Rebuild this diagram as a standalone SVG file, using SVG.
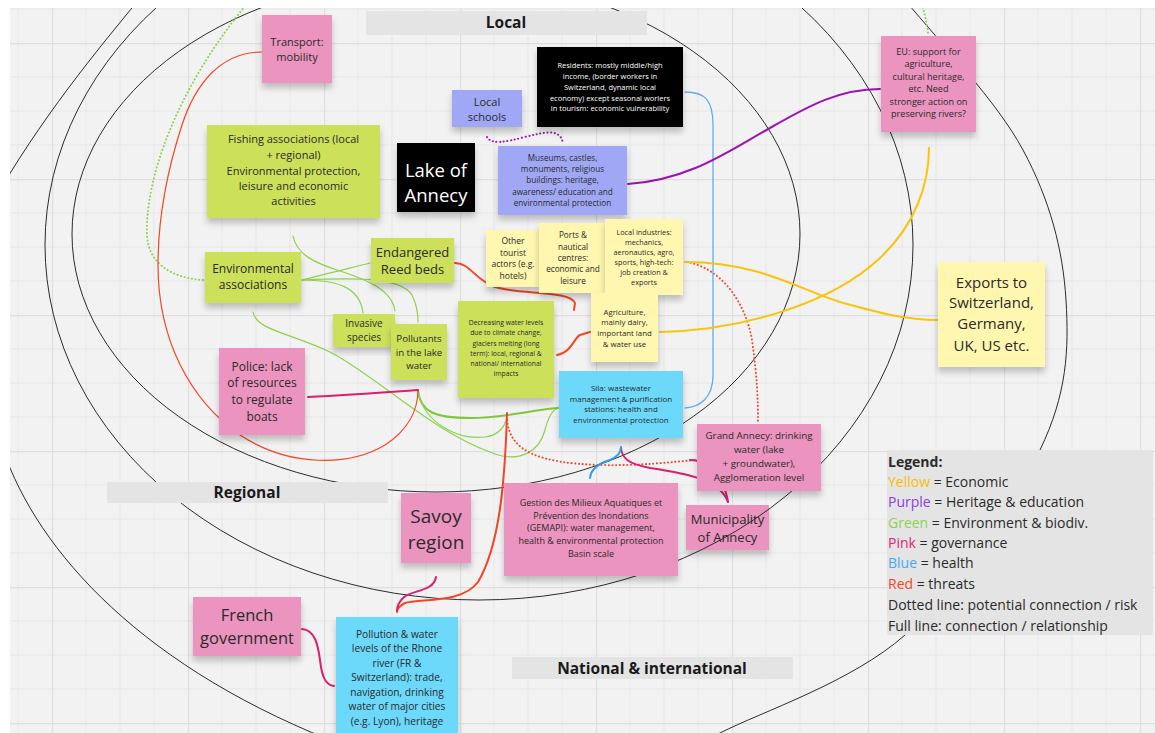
<svg xmlns="http://www.w3.org/2000/svg" width="1155" height="733" viewBox="0 0 1155 733">
<defs>
<style>
text{font-family:"Open Sans","Liberation Sans",sans-serif;fill:#2a2a2a;text-anchor:middle}
.w{fill:#fff}
.lbl{font-weight:bold;font-size:15.5px;fill:#1a1a1a}
.pink{fill:#ea94bf}
.lime{fill:#cde05a}
.yel{fill:#fff6b0}
.peri{fill:#a0a8f5}
.cyan{fill:#6cd8fa}
.blk{fill:#050505}
.bar{fill:#e4e4e4}
.st{filter:url(#sh)}
.ring{fill:none;stroke:#2b2b2b;stroke-width:1}
.c{fill:none;stroke-linecap:round;stroke-linejoin:round}
.g{stroke:#8fd14f;stroke-width:1.2}
.gt{stroke:#7cc83a;stroke-width:2}
.gd{stroke:#8fd14f;stroke-width:2;stroke-dasharray:0.1 3.6}
.r{stroke:#f24726;stroke-width:1.2}
.rt{stroke:#f24726;stroke-width:2}
.rd{stroke:#f24726;stroke-width:2;stroke-dasharray:0.1 3.6}
.p{stroke:#d8206f;stroke-width:2}
.pu{stroke:#9b12b3;stroke-width:2}
.pud{stroke:#9b12b3;stroke-width:2;stroke-dasharray:0.1 3.6}
.y{stroke:#f8c40c;stroke-width:2}
.b{stroke:#5aaef2;stroke-width:1.3}
.bt{stroke:#2d9bf0;stroke-width:2}
.leg{text-anchor:start;font-size:14px;fill:#2a2a2a}
</style>
<filter id="sh" x="-10%" y="-10%" width="120%" height="135%">
<feDropShadow dx="0" dy="5" stdDeviation="3" flood-color="#000" flood-opacity="0.22"/>
</filter>
<pattern id="grid" x="52" y="43" width="136" height="136" patternUnits="userSpaceOnUse">
<path d="M34 0V136M68 0V136M102 0V136M0 34H136M0 68H136M0 102H136" stroke="#e6e6e6" stroke-width="1" fill="none"/>
<path d="M0.5 0V136M0 0.5H136" stroke="#dedede" stroke-width="1.4" fill="none"/>
</pattern>
<clipPath id="cv"><rect x="10" y="8" width="1145" height="725"/></clipPath>
</defs>
<rect width="1155" height="733" fill="#fff"/>
<g clip-path="url(#cv)">
<rect x="10" y="8" width="1145" height="725" fill="#f2f2f2"/>
<rect x="10" y="8" width="1145" height="725" fill="url(#grid)"/>

<g id="node-municipality">
<rect class="pink st" x="686" y="505" width="83" height="45"/>
<text font-size="13"><tspan x="727.5" y="523.5">Municipality</tspan><tspan x="727.5" y="541.5">of Annecy</tspan></text>
</g>

<g id="rings">
<ellipse class="ring" cx="436" cy="234" rx="364" ry="258"/>
<ellipse class="ring" cx="479" cy="245" rx="434" ry="355"/>
<path class="ring" d="M145,-8 C110,35 50,105 0,190"/>
<path class="ring" d="M0,440 C30,540 130,660 330,740"/>
<path class="ring" d="M905,0 C942,45 996,100 1023,150 C1050,200 1063,250 1066,300 C1069,350 1067,394 1040,450 C1013,506 958,588 905,635 C852,682 761,712 720,733 C700,743 680,754 660,760"/>
</g>

<g id="zone-labels">
<rect class="bar" x="366" y="11" width="281" height="24"/>
<text class="lbl" x="506" y="28">Local</text>
<rect class="bar" x="107" y="482" width="281" height="21"/>
<text class="lbl" x="247" y="498">Regional</text>
<rect class="bar" x="512" y="657" width="281" height="22"/>
<text class="lbl" x="652" y="674">National &amp; international</text>
</g>

<g id="connectors">
<path class="c gd" d="M203,280 C170,278 148,262 147,235 C145,180 175,90 250,0"/>
<path class="c gd" d="M921,0 C924,12 927,22 928,33"/>
<path class="c g" d="M293,236 C297,255 315,263 340,271 C368,280 392,290 395,311"/>
<path class="c g" d="M302,280 C325,274 350,268 370,263"/>
<path class="c g" d="M302,280 C335,280 360,286 363,313"/>
<path class="c g" d="M302,280 C350,278 400,276 412,295 C417,305 418,312 418,322"/>
<path class="c g" d="M253,312 C256,330 290,333 330,352 C375,375 430,430 490,452 C520,465 540,450 545,430 C548,418 552,410 558,408"/>
<path class="c gt" d="M418,390 C420,412 435,418 470,418 C505,418 530,410 558,408"/>
<path class="c g" d="M418,392 C425,425 460,440 485,437 C500,435 507,425 507,413"/>
<path class="c r" d="M262,52 C220,52 195,85 182,125 C168,168 158,215 158,265 C158,340 190,400 240,435 C290,468 350,466 385,445 C408,430 418,410 418,390"/>
<path class="c p" d="M308,397 C350,395 390,392 418,390"/>
<path class="c rt" d="M507,413 C505,480 500,545 478,582 C462,604 420,598 405,603 C399,606 397,609 397,612"/>
<path class="c rd" d="M507,420 C510,452 540,463 600,465 C640,466 670,462 697,460"/>
<path class="c rd" d="M687,262 C720,268 745,300 752,340 C757,375 758,400 758,422"/>
<path class="c rt" d="M455,263 C470,263 475,280 495,287 C520,295 570,290 575,303 L574,310"/>
<path class="c rt" d="M557,355 C572,352 574,338 580,335 L590,332"/>
<path class="c p" d="M436,577 C434,592 410,590 403,598 C398,603 397,607 397,611"/>
<path class="c p" d="M302,629 C315,630 318,645 320,660 C322,678 326,685 334,686"/>
<path class="c p" d="M621,448 C622,458 628,464 650,468 C690,474 720,480 728,502"/>
<path class="c p" d="M690,460 C702,460 715,468 720,478 C725,488 727,495 728,502"/>
<path class="c bt" d="M590,478 C591,468 600,463 610,460 C617,457 621,453 621,447"/>
<path class="c b" d="M685,92 C705,92 713,100 713,125 L713,375 C713,398 700,407 685,408"/>
<path class="c y" d="M685,262 C760,262 800,290 840,302 C880,313 905,320 938,320"/>
<path class="c y" d="M660,332 C740,330 830,305 880,258 C915,225 929,185 929,148"/>
<path class="c pu" d="M628,184 C690,180 730,150 770,128 C810,105 840,89 880,89"/>
<path class="c pud" d="M487,137 C492,145 505,142 525,137 C545,132 560,128 563,143"/>
</g>

<g id="node-transport">
<rect class="pink st" x="262" y="15" width="70" height="68"/>
<text font-size="11"><tspan x="297" y="46">Transport:</tspan><tspan x="297" y="61">mobility</tspan></text>
</g>
<g id="node-fishing">
<rect class="lime st" x="207" y="125" width="173" height="93"/>
<text font-size="11"><tspan x="293.5" y="143">Fishing associations (local</tspan><tspan x="293.5" y="159">+ regional)</tspan><tspan x="293.5" y="175">Environmental protection,</tspan><tspan x="293.5" y="190">leisure and economic</tspan><tspan x="293.5" y="205">activities</tspan></text>
</g>
<g id="node-lake">
<rect class="blk st" x="397" y="143" width="78" height="69"/>
<text class="w" font-size="18.5"><tspan class="w" x="436" y="176.5">Lake of</tspan><tspan class="w" x="436" y="201.5">Annecy</tspan></text>
</g>
<g id="node-schools">
<rect class="peri st" x="452" y="90" width="70" height="37"/>
<text font-size="11"><tspan x="487" y="106">Local</tspan><tspan x="487" y="121">schools</tspan></text>
</g>
<g id="node-residents">
<rect class="blk st" x="537" y="47" width="146" height="80"/>
<text class="w" font-size="7.5"><tspan class="w" x="610" y="67.6">Residents: mostly middle/high</tspan><tspan class="w" x="610" y="78.6">income, (border workers in</tspan><tspan class="w" x="610" y="89.6">Switzerland, dynamic local</tspan><tspan class="w" x="610" y="100.6">economy) except seasonal worlers</tspan><tspan class="w" x="610" y="110.6">in tourism: economic vulnerability</tspan></text>
</g>
<g id="node-museums">
<rect class="peri st" x="498" y="146" width="129" height="69"/>
<text font-size="8.2"><tspan x="562.5" y="161">Museums, castles,</tspan><tspan x="562.5" y="172">monuments, religious</tspan><tspan x="562.5" y="183">buildings: heritage,</tspan><tspan x="562.5" y="195">awareness/ education and</tspan><tspan x="562.5" y="206">environmental protection</tspan></text>
</g>
<g id="node-envassoc">
<rect class="lime st" x="205" y="252" width="96" height="51"/>
<text font-size="12"><tspan x="253" y="273">Environmental</tspan><tspan x="253" y="289">associations</tspan></text>
</g>
<g id="node-reedbeds">
<rect class="lime st" x="371" y="238" width="83" height="45"/>
<text font-size="13"><tspan x="412.5" y="256.5">Endangered</tspan><tspan x="412.5" y="273.5">Reed beds</tspan></text>
</g>
<g id="node-invasive">
<rect class="lime st" x="333" y="314" width="62" height="33"/>
<text font-size="10"><tspan x="364" y="326.5">Invasive</tspan><tspan x="364" y="340.5">species</tspan></text>
</g>
<g id="node-pollutants">
<rect class="lime st" x="391" y="324" width="56" height="56"/>
<text font-size="9.7"><tspan x="419" y="341.5">Pollutants</tspan><tspan x="419" y="355.5">in the lake</tspan><tspan x="419" y="368.5">water</tspan></text>
</g>
<g id="node-police">
<rect class="pink st" x="219" y="348" width="86" height="87"/>
<text font-size="12"><tspan x="262" y="371">Police: lack</tspan><tspan x="262" y="387">of resources</tspan><tspan x="262" y="404">to regulate</tspan><tspan x="262" y="421">boats</tspan></text>
</g>
<g id="node-tourist">
<rect class="yel st" x="486" y="230" width="54" height="57"/>
<text font-size="8.5"><tspan x="513" y="244">Other</tspan><tspan x="513" y="256">tourist</tspan><tspan x="513" y="267">actors (e.g.</tspan><tspan x="513" y="279">hotels)</tspan></text>
</g>
<g id="node-ports">
<rect class="yel st" x="539" y="223" width="68" height="70"/>
<text font-size="8.2"><tspan x="573" y="238">Ports &amp;</tspan><tspan x="573" y="250">nautical</tspan><tspan x="573" y="261">centres:</tspan><tspan x="573" y="272">economic and</tspan><tspan x="573" y="284">leisure</tspan></text>
</g>
<g id="node-industries">
<rect class="yel st" x="605" y="219" width="78" height="76"/>
<text font-size="7.3"><tspan x="644" y="234.5">Local industries:</tspan><tspan x="644" y="244.5">mechanics,</tspan><tspan x="644" y="254.5">aeronautics, agro,</tspan><tspan x="644" y="264.5">sports, high-tech:</tspan><tspan x="644" y="274.5">job creation &amp;</tspan><tspan x="644" y="284.5">exports</tspan></text>
</g>
<g id="node-agriculture">
<rect class="yel st" x="591" y="293" width="67" height="69"/>
<text font-size="7.8"><tspan x="624.5" y="314.7">Agriculture,</tspan><tspan x="624.5" y="324.7">mainly dairy,</tspan><tspan x="624.5" y="335.7">important land</tspan><tspan x="624.5" y="346.7">&amp; water use</tspan></text>
</g>
<g id="node-waterlevels">
<rect class="lime st" x="458" y="301" width="96" height="97"/>
<text font-size="6.8"><tspan x="506" y="325.4">Decreasing water levels</tspan><tspan x="506" y="335.4">due to climate change,</tspan><tspan x="506" y="346.4">glaciers melting (long</tspan><tspan x="506" y="356.4">term): local, regional &amp;</tspan><tspan x="506" y="366.4">national/ international</tspan><tspan x="506" y="376.4">impacts</tspan></text>
</g>
<g id="node-sila">
<rect class="cyan st" x="559" y="371" width="124" height="67"/>
<text font-size="8"><tspan x="621" y="390.8">Sila: wastewater</tspan><tspan x="621" y="401.8">management &amp; purification</tspan><tspan x="621" y="411.8">stations: health and</tspan><tspan x="621" y="422.8">environmental protection</tspan></text>
</g>
<g id="node-eu">
<rect class="pink st" x="881" y="36" width="95" height="96"/>
<text font-size="9.1"><tspan x="928.5" y="55">EU: support for</tspan><tspan x="928.5" y="67">agriculture,</tspan><tspan x="928.5" y="80">cultural heritage,</tspan><tspan x="928.5" y="92">etc. Need</tspan><tspan x="928.5" y="105">stronger action on</tspan><tspan x="928.5" y="117">preserving rivers?</tspan></text>
</g>
<g id="node-exports">
<rect class="yel st" x="938" y="262" width="107" height="105"/>
<text font-size="15"><tspan x="991.5" y="288">Exports to</tspan><tspan x="991.5" y="308">Switzerland,</tspan><tspan x="991.5" y="329">Germany,</tspan><tspan x="991.5" y="351">UK, US etc.</tspan></text>
</g>
<g id="node-grandannecy">
<rect class="pink st" x="697" y="424" width="124" height="67"/>
<text font-size="9.8"><tspan x="759" y="438.5">Grand Annecy: drinking</tspan><tspan x="759" y="452.5">water (lake</tspan><tspan x="759" y="466.5">+ groundwater),</tspan><tspan x="759" y="480.5">Agglomeration level</tspan></text>
</g>
<g id="node-gemapi">
<rect class="pink st" x="504" y="483" width="174" height="93"/>
<text font-size="9"><tspan x="591" y="506">Gestion des Milieux Aquatiques et</tspan><tspan x="591" y="519">Prévention des Inondations</tspan><tspan x="591" y="531">(GEMAPI): water management,</tspan><tspan x="591" y="544">health &amp; environmental protection</tspan><tspan x="591" y="557">Basin scale</tspan></text>
</g>
<g id="node-savoy">
<rect class="pink st" x="401" y="493" width="70" height="70"/>
<text font-size="19"><tspan x="436" y="522.5">Savoy</tspan><tspan x="436" y="548.5">region</tspan></text>
</g>
<g id="node-french">
<rect class="pink st" x="193" y="597" width="108" height="59"/>
<text font-size="16.5"><tspan x="247" y="621">French</tspan><tspan x="247" y="644">government</tspan></text>
</g>
<g id="node-rhone">
<rect class="cyan st" x="336" y="617" width="122" height="130"/>
<text font-size="10.2"><tspan x="397" y="637.5">Pollution &amp; water</tspan><tspan x="397" y="651.5">levels of the Rhone</tspan><tspan x="397" y="666.5">river (FR &amp;</tspan><tspan x="397" y="680.5">Switzerland): trade,</tspan><tspan x="397" y="695.5">navigation, drinking</tspan><tspan x="397" y="709.5">water of major cities</tspan><tspan x="397" y="724.5">(e.g. Lyon), heritage</tspan></text>
</g>
<g id="legend">
<rect x="887" y="450" width="266" height="185" fill="#e4e4e4"/>
<text class="leg" x="888" y="467" font-weight="bold" fill="#1a1a1a">Legend:</text>
<text class="leg" x="888" y="487"><tspan fill="#f5c000">Yellow</tspan> = Economic</text>
<text class="leg" x="888" y="507"><tspan fill="#8a3ee0">Purple</tspan> = Heritage &amp; education</text>
<text class="leg" x="888" y="528"><tspan fill="#8fd14f">Green</tspan> = Environment &amp; biodiv.</text>
<text class="leg" x="888" y="548"><tspan fill="#e0247a">Pink</tspan> = governance</text>
<text class="leg" x="888" y="568"><tspan fill="#4aa8f0">Blue</tspan> = health</text>
<text class="leg" x="888" y="589"><tspan fill="#f24726">Red</tspan> = threats</text>
<text class="leg" x="888" y="610">Dotted line: potential connection / risk</text>
<text class="leg" x="888" y="631">Full line: connection / relationship</text>
</g>
</g>
</svg>
